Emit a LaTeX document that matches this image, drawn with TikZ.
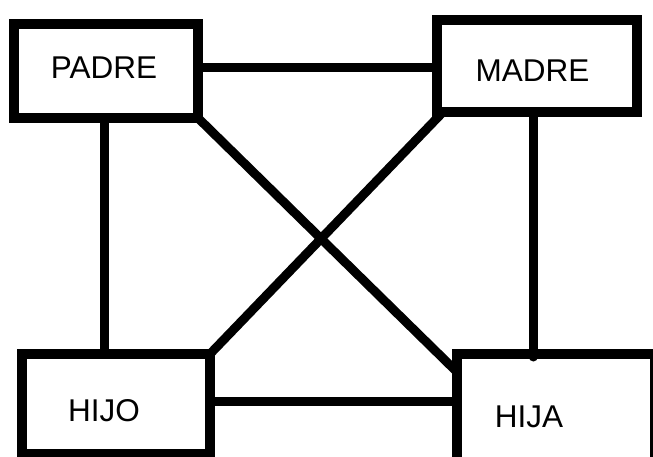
\documentclass[tikz,border=0pt]{standalone}
\usepackage{fontspec}
\setmainfont{Liberation Sans}
\begin{document}
\begin{tikzpicture}[x=1pt,y=-1pt,
  box/.style={draw=black,line width=10pt,rectangle,outer sep=0pt,inner sep=0pt},
  link/.style={draw=black,line width=9pt},
  lbl/.style={inner sep=0pt,font=\fontsize{31.5}{36}\selectfont,text=black}]
  \useasboundingbox (0,0) rectangle (653,457);
  \clip (0,0) rectangle (653,457);
  % family boxes
  \node[box,minimum width=184.5pt,minimum height=94pt] (padre) at (105.75,71) {};
  \node[box,minimum width=200pt,minimum height=92pt] (madre) at (537,66) {};
  \node[box,minimum width=188pt,minimum height=100pt] (hijo) at (116,404) {};
  \node[box,minimum width=198pt,minimum height=108pt] (hija) at (556,408) {};
  % names
  \node[lbl] (tpadre) at (104,68) {PADRE};
  \node[lbl] (tmadre) at (532.5,70.5) {MADRE};
  \node[lbl] (thijo) at (104,410.5) {HIJO};
  \node[lbl] (thija) at (529,417) {HIJA};
  % relations
  \draw[link,line cap=round] ([yshift=3pt]padre.east) -- ([yshift=-2pt]madre.west);
  \draw[link] ([xshift=-1.75pt]padre.south) -- ([xshift=-12pt]hijo.north);
  \draw[link,line cap=round] ([xshift=-4pt]madre.south) -- ([xshift=-23pt,yshift=-3pt]hija.north);
  \draw[link] (padre.south east) -- ([yshift=-18pt]hija.north west);
  \draw[link] ([xshift=6pt]madre.south west) -- (hijo.north east);
  \draw[link] ([yshift=3pt]hijo.east) -- ([yshift=7pt]hija.west);
\end{tikzpicture}
\end{document}
